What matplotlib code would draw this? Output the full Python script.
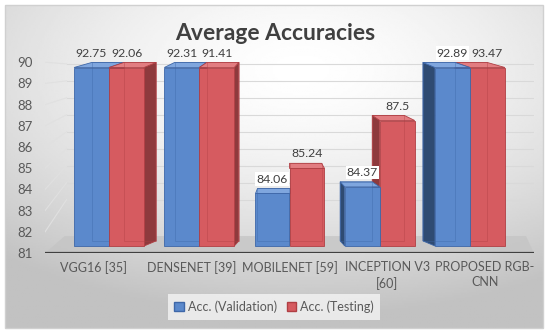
import numpy as np
import matplotlib

matplotlib.use("Agg")
import matplotlib.pyplot as plt  # noqa: E402
from matplotlib.patches import Polygon, Rectangle, Patch  # noqa: E402

plt.rcParams["font.family"] = ["Lato", "DejaVu Sans"]

models = ["VGG16 [35]", "DENSENET [39]", "MOBILENET [59]", "INCEPTION V3\n[60]", "PROPOSED RGB-\nCNN"]
validation = [92.75, 92.31, 84.06, 84.37, 92.89]
testing = [92.06, 91.41, 85.24, 87.5, 93.47]
series_names = ["Acc. (Validation)", "Acc. (Testing)"]
yticks = list(range(81, 91))

TXT = "#595959"
# front, side, top, edge
BLUE = ("#5B89CC", "#2F4B72", "#7FA6DE", "#3E67A8")
RED = ("#D65B60", "#8E3A3D", "#E27D81", "#B03F44")

YMIN, YMAX = 81, 92
CAP = 90          # axis max, taller bars get clipped
VP = 2.0          # horizontal vanishing point (data x)
SX = 0.917        # back-face shrink toward VP
DY = 0.24         # back face raised
SHRINK = 0.923    # bar plane vs front axis plane
W = 0.358
BOT = 81.33

fig = plt.figure(figsize=(5.5, 3.34), dpi=100)

# background panel with soft radial gradient
bg = fig.add_axes([0, 0, 1, 1])
bg.set_xlim(0, 1)
bg.set_ylim(0, 1)
bg.axis("off")
gx, gy = np.meshgrid(np.linspace(0, 1, 300), np.linspace(0, 1, 200))
d = np.sqrt(((gx - 0.55) / 1.0) ** 2 + ((gy - 0.2) / 0.9) ** 2)
shade = 1.0 - 0.24 * np.clip(d / 0.85, 0, 1) ** 1.5
x0f, x1f = 5 / 550, 543 / 550
y0f, y1f = 1 - 328 / 334, 1 - 5 / 334
bg.imshow(shade, cmap="gray", vmin=0, vmax=1, extent=(x0f, x1f, y0f, y1f),
          origin="upper", aspect="auto", zorder=0)
bg.add_patch(Rectangle((x0f, y0f), x1f - x0f, y1f - y0f, fill=False,
                       ec="#D0D0D0", lw=1, zorder=1))

ax = fig.add_axes([45.1 / 550, 81 / 334, 488.8 / 550, (YMAX - YMIN) * 21.2 / 334])
ax.set_xlim(-0.5, 4.5)
ax.set_ylim(YMIN, YMAX)
ax.patch.set_alpha(0)
for s in ax.spines.values():
    s.set_visible(False)

# back wall gridlines + left wall
for v in yticks[1:]:
    vb = 89.6 + 0.8 * (v - 89.6)
    ax.plot([-0.28, 4.55], [vb, vb], color="#D9D9D9", lw=0.8, zorder=1)
    ax.plot([-0.5, -0.28], [v, vb], color="#E0E0E0", lw=0.8, zorder=1)

# floor
ax.add_patch(Polygon([(-0.5, 81), (4.5, 81), (4.42, 81.8), (-0.3, 81.8)],
                     closed=True, fc="#C4C4C4", ec="none", alpha=0.75, zorder=2))
ax.plot([-0.5, 4.5], [81, 81], color="#404040", lw=1.6, zorder=6, solid_capstyle="butt")


def bar3d(x0, x1, v, cols):
    front, side, top, edge = cols
    t = min(v, CAP) - 0.25
    bx0 = VP + SX * (x0 - VP)
    bx1 = VP + SX * (x1 - VP)
    bb, bt = BOT + DY, t + DY
    if bx0 < x0:
        ax.add_patch(Polygon([(x0, BOT), (x0, t), (bx0, bt), (bx0, bb)], fc=side, ec=edge, lw=0.6, zorder=3))
    if bx1 > x1:
        ax.add_patch(Polygon([(x1, BOT), (x1, t), (bx1, bt), (bx1, bb)], fc=side, ec=edge, lw=0.6, zorder=3))
    ax.add_patch(Polygon([(x0, t), (x1, t), (bx1, bt), (bx0, bt)], fc=top, ec=edge, lw=0.6, zorder=3))
    ax.add_patch(Rectangle((x0, BOT), x1 - x0, t - BOT, fc=front, ec=edge, lw=0.6, zorder=3))
    # back edges seen through the glassy box
    ax.add_patch(Rectangle((bx0, bb), bx1 - bx0, bt - bb, fill=False, ec=edge, lw=0.6, alpha=0.45, zorder=3))
    return t


for i in range(len(models)):
    c = VP + SHRINK * (i - VP)
    bars = [(c - W, c, validation[i], BLUE), (c, c + W, testing[i], RED)]
    order = bars if c <= VP else bars[::-1]
    tops = {}
    for x0, x1, v, cols in order:
        tops[x0] = bar3d(x0, x1, v, cols)
    for k, (x0, x1, v, cols) in enumerate(bars):
        other = bars[1 - k][2]
        box = dict(fc="white", ec="none", pad=0.8) if (k == 0 and other > v) else None
        ax.text((x0 + x1) / 2, tops[x0] + 0.68, f"{v:g}", ha="center", va="center",
                fontsize=8.8, color="#404040", bbox=box, zorder=7)

ax.set_yticks(yticks)
ax.set_yticklabels([str(v) for v in yticks], fontsize=9.5, color=TXT)
ax.set_xticks(range(len(models)))
ax.set_xticklabels(models, fontsize=9, color=TXT, linespacing=1.3)
ax.tick_params(length=0)
ax.tick_params(axis="y", pad=9)
ax.tick_params(axis="x", pad=6)

fig.text(0.5, 1 - 33 / 334, "Average Accuracies", ha="center", va="center",
         fontsize=16.5, fontweight="bold", color="#404040")

handles = [Patch(fc=BLUE[0], ec=BLUE[3], label=series_names[0]),
           Patch(fc=RED[0], ec=RED[3], label=series_names[1])]
leg = fig.legend(handles=handles, loc="center", bbox_to_anchor=(274 / 550, 1 - 307 / 334),
                 ncol=2, fontsize=9, frameon=True, fancybox=False, handlelength=0.75,
                 handleheight=0.75, handletextpad=0.3, columnspacing=0.8, borderpad=0.5)
leg.get_frame().set_facecolor("#F4F4F4")
leg.get_frame().set_edgecolor("none")
for t in leg.get_texts():
    t.set_color(TXT)

fig.savefig("out.png", dpi=100)
